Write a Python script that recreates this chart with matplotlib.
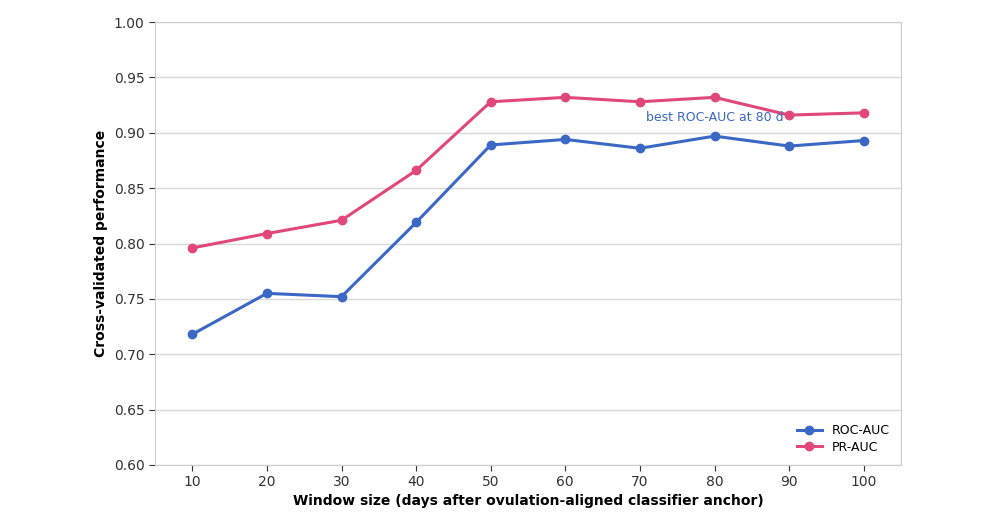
import matplotlib
matplotlib.use("Agg")
import matplotlib.pyplot as plt

windows = [10, 20, 30, 40, 50, 60, 70, 80, 90, 100]
roc_auc = [0.718, 0.755, 0.752, 0.819, 0.889, 0.894, 0.886, 0.897, 0.888, 0.893]
pr_auc = [0.796, 0.809, 0.821, 0.866, 0.928, 0.932, 0.928, 0.932, 0.916, 0.918]

BLUE = "#3a68c4"
PINK = "#e0487b"

fig = plt.figure(figsize=(10, 5.25), dpi=100)
ax = fig.add_axes([0.155, 0.1143, 0.746, 0.8437])

ax.plot(windows, roc_auc, color=BLUE, lw=2.2, marker="o", ms=6, label="ROC-AUC")
ax.plot(windows, pr_auc, color=PINK, lw=2.2, marker="o", ms=6, label="PR-AUC")

best = max(range(len(roc_auc)), key=lambda i: roc_auc[i])
ax.text(windows[best], roc_auc[best] + 0.017, f"best ROC-AUC at {windows[best]} d",
        color=BLUE, fontsize=9, ha="center", va="center")

ax.set_xlim(5, 105)
ax.set_ylim(0.60, 1.00)
ax.set_xticks(windows)
ax.set_yticks([0.60 + 0.05 * i for i in range(9)])
ax.yaxis.set_major_formatter(matplotlib.ticker.FormatStrFormatter("%.2f"))
ax.tick_params(labelsize=10, colors="#333333", length=4)
ax.grid(axis="y", color="#d9d9d9", lw=1)
ax.set_axisbelow(True)
for s in ax.spines.values():
    s.set_color("#cccccc")

ax.set_xlabel("Window size (days after ovulation-aligned classifier anchor)",
              fontsize=10, fontweight="bold", labelpad=3)
ax.set_ylabel("Cross-validated performance", fontsize=10, fontweight="bold", labelpad=4)
ax.legend(loc="lower right", frameon=False, fontsize=9, labelspacing=0.3,
          handlelength=2.0, borderaxespad=0.5)

fig.savefig("out.png", dpi=100)
